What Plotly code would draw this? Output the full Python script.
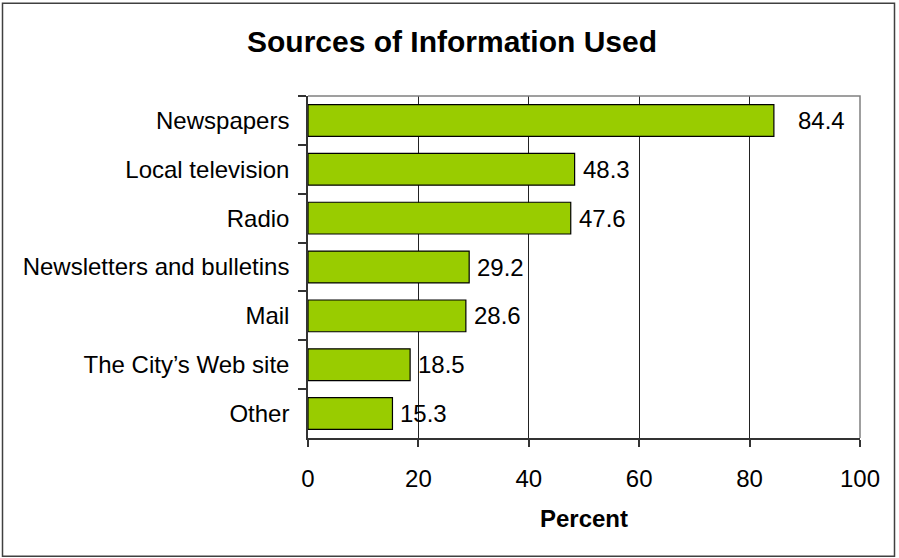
import plotly.graph_objects as go

# Survey results: share of respondents using each information source
sources = [
    "Newspapers",
    "Local television",
    "Radio",
    "Newsletters and bulletins",
    "Mail",
    "The City\u2019s Web site",
    "Other",
]
percent = [84.4, 48.3, 47.6, 29.2, 28.6, 18.5, 15.3]
x_ticks = [0, 20, 40, 60, 80, 100]

FONT = "Liberation Sans, Arial, sans-serif"
W, H = 899, 558
L, R, T, B = 308, 39, 95.5, 120
PW, PH = W - L - R, H - T - B

fig = go.Figure(
    go.Bar(
        x=percent,
        y=sources,
        orientation="h",
        marker=dict(color="#99CC00", line=dict(color="#000000", width=1.2)),
        hoverinfo="x+y",
    )
)

# value labels just right of each bar end (the top one sits a bit further out)
extra_shift = {"Newspapers": 16}
for name, val in zip(sources, percent):
    fig.add_annotation(
        x=val,
        y=name,
        xref="x",
        yref="y",
        text=f"{val:.1f}",
        showarrow=False,
        xanchor="left",
        yanchor="middle",
        xshift=6 + extra_shift.get(name, 0),
        font=dict(family=FONT, size=24, color="#000000"),
    )


def px_x(px):
    return (px - L) / PW


def px_y(py):
    return (H - B - py) / PH


# outer chart frame
fig.add_shape(
    type="rect",
    xref="paper",
    yref="paper",
    x0=px_x(2.5),
    x1=px_x(894.5),
    y0=px_y(556.5),
    y1=px_y(2.5),
    line=dict(color="#404040", width=1.5),
    fillcolor="rgba(0,0,0,0)",
    layer="below",
)
# plot area border (top and right edges)
fig.add_shape(
    type="path",
    xref="paper",
    yref="paper",
    path="M 0 1 L 1 1 L 1 0",
    line=dict(color="#808080", width=1.5),
    layer="above",
)

fig.update_layout(
    width=W,
    height=H,
    margin=dict(l=L, r=R, t=T, b=B, pad=0),
    paper_bgcolor="#ffffff",
    plot_bgcolor="#ffffff",
    showlegend=False,
    bargap=0.35,
    font=dict(family=FONT, size=24, color="#000000"),
    title=dict(
        text="<b>Sources of Information Used</b>",
        x=452 / W,
        xanchor="center",
        y=(H - 41) / H,
        yanchor="middle",
        yref="container",
        font=dict(family=FONT, size=30, color="#000000"),
    ),
    xaxis=dict(
        range=[0, 100],
        tickvals=x_ticks,
        ticktext=[str(v) for v in x_ticks],
        showgrid=True,
        gridcolor="#222222",
        gridwidth=1,
        zeroline=False,
        showline=True,
        linecolor="#333333",
        linewidth=1.5,
        ticks="outside",
        ticklen=7,
        tickcolor="#333333",
        tickwidth=1.5,
        ticklabelstandoff=11,
        tickfont=dict(family=FONT, size=24),
        title=dict(
            text="<b>Percent</b>",
            font=dict(family=FONT, size=24),
            standoff=20,
        ),
        fixedrange=True,
    ),
    yaxis=dict(
        categoryorder="array",
        categoryarray=sources,
        autorange="reversed",
        showgrid=False,
        zeroline=False,
        showline=True,
        linecolor="#333333",
        linewidth=1.5,
        ticks="outside",
        tickson="boundaries",
        ticklen=8,
        tickcolor="#333333",
        tickwidth=1.5,
        ticklabelstandoff=12,
        tickfont=dict(family=FONT, size=24),
        fixedrange=True,
    ),
)

fig.write_html("out.html")
